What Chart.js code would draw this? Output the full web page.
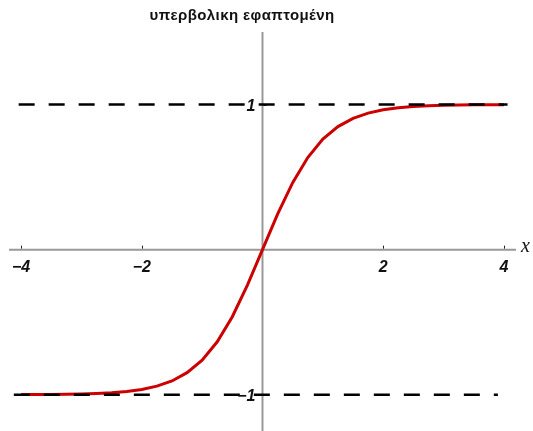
<!DOCTYPE html>
<html>
<head>
<meta charset="utf-8">
<script src="https://cdn.jsdelivr.net/npm/chart.js@4/dist/chart.umd.min.js"></script>
<style>
  body { margin: 0; background: #fff; }
  #wrap { width: 533px; height: 431px; }
</style>
</head>
<body>
<div id="wrap"><canvas id="tanhChart" width="533" height="431"></canvas></div>
<script>
const chartTitle = 'υπερβολικη εφαπτομένη';

// curve samples
const curveX = [-4, -3.75, -3.5, -3.25, -3, -2.75, -2.5, -2.25, -2, -1.75, -1.5, -1.25, -1, -0.75, -0.5, -0.25,
    0, 0.25, 0.5, 0.75, 1, 1.25, 1.5, 1.75, 2, 2.25, 2.5, 2.75, 3, 3.25, 3.5, 3.75, 4];
const curveY = [-0.999, -0.999, -0.998, -0.997, -0.995, -0.992, -0.987, -0.978, -0.964, -0.941, -0.905, -0.848, -0.762, -0.635, -0.462, -0.245,
    0, 0.245, 0.462, 0.635, 0.762, 0.848, 0.905, 0.941, 0.964, 0.978, 0.987, 0.992, 0.995, 0.997, 0.998, 0.999, 0.999];

// dashed asymptotes
const upperX = [-4.04, 4.06];
const upperY = [1, 1];
const lowerX = [-4.12, 3.9];
const lowerY = [-1, -1];

const xTicks = [-4, -2, 2, 4];
const xTickLabels = ['\u22124', '\u22122', '2', '4'];
const yTicks = [1, -1];
const yTickLabels = ['1', '\u22121'];

const toPoints = (xs, ys) => xs.map((x, i) => ({ x: x, y: ys[i] }));

// axes through the origin, Mathematica style
const originAxes = {
    id: 'originAxes',
    beforeDatasetsDraw(chart) {
        const ctx = chart.ctx;
        const sx = chart.scales.x, sy = chart.scales.y;
        const x0 = sx.getPixelForValue(0), y0 = sy.getPixelForValue(0);
        ctx.save();
        ctx.strokeStyle = '#999999';
        ctx.lineWidth = 2;
        ctx.beginPath();
        ctx.moveTo(chart.chartArea.left, y0);
        ctx.lineTo(chart.chartArea.right, y0);
        ctx.moveTo(x0, chart.chartArea.top);
        ctx.lineTo(x0, chart.chartArea.bottom);
        ctx.stroke();
        ctx.strokeStyle = '#222';
        ctx.lineWidth = 1;
        ctx.beginPath();
        xTicks.forEach(v => {
            const px = Math.round(sx.getPixelForValue(v)) + 0.5;
            ctx.moveTo(px, y0 - 1);
            ctx.lineTo(px, y0 - 4);
        });
        yTicks.forEach(v => {
            const py = Math.round(sy.getPixelForValue(v)) + 0.5;
            ctx.moveTo(x0 + 1, py);
            ctx.lineTo(x0 + 4, py);
        });
        ctx.stroke();
        ctx.restore();
    },
    afterDatasetsDraw(chart) {
        const ctx = chart.ctx;
        const sx = chart.scales.x, sy = chart.scales.y;
        const x0 = sx.getPixelForValue(0), y0 = sy.getPixelForValue(0);
        ctx.save();
        ctx.fillStyle = '#111';
        ctx.font = 'italic bold 16px "Liberation Sans", Arial, sans-serif';
        ctx.textAlign = 'center';
        ctx.textBaseline = 'top';
        xTicks.forEach((v, i) => {
            ctx.fillText(xTickLabels[i], sx.getPixelForValue(v), y0 + 10);
        });
        ctx.textAlign = 'right';
        ctx.textBaseline = 'middle';
        yTicks.forEach((v, i) => {
            ctx.fillText(yTickLabels[i], x0 - 7, sy.getPixelForValue(v) + 2);
        });
        ctx.font = 'italic 20px "Liberation Serif", "Times New Roman", serif';
        ctx.textAlign = 'left';
        ctx.fillText('x', chart.chartArea.right + 5, y0 - 3);
        ctx.font = 'bold 15px "Liberation Sans", Arial, sans-serif';
        ctx.letterSpacing = '0.4px';
        ctx.textAlign = 'center';
        ctx.fillText(chartTitle, 242, 16);
        ctx.restore();
    }
};

new Chart(document.getElementById('tanhChart'), {
    type: 'scatter',
    data: {
        datasets: [
            {
                data: toPoints(upperX, upperY),
                showLine: true,
                borderColor: '#000000',
                borderWidth: 2.5,
                borderDash: [16, 14],
                pointRadius: 0
            },
            {
                data: toPoints(lowerX, lowerY),
                showLine: true,
                borderColor: '#000000',
                borderWidth: 2.5,
                borderDash: [16, 14],
                pointRadius: 0
            },
            {
                data: toPoints(curveX, curveY),
                showLine: true,
                borderColor: '#cc0000',
                borderWidth: 3,
                tension: 0,
                pointRadius: 0
            }
        ]
    },
    options: {
        responsive: false,
        animation: false,
        layout: { padding: { left: 9, right: 17, top: 32, bottom: 0 } },
        scales: {
            x: { type: 'linear', min: -4.2, max: 4.2, display: false },
            y: { type: 'linear', min: -1.25, max: 1.5, display: false }
        },
        plugins: {
            legend: { display: false },
            tooltip: { enabled: false },
            title: { display: false }
        }
    },
    plugins: [originAxes]
});
</script>
</body>
</html>
